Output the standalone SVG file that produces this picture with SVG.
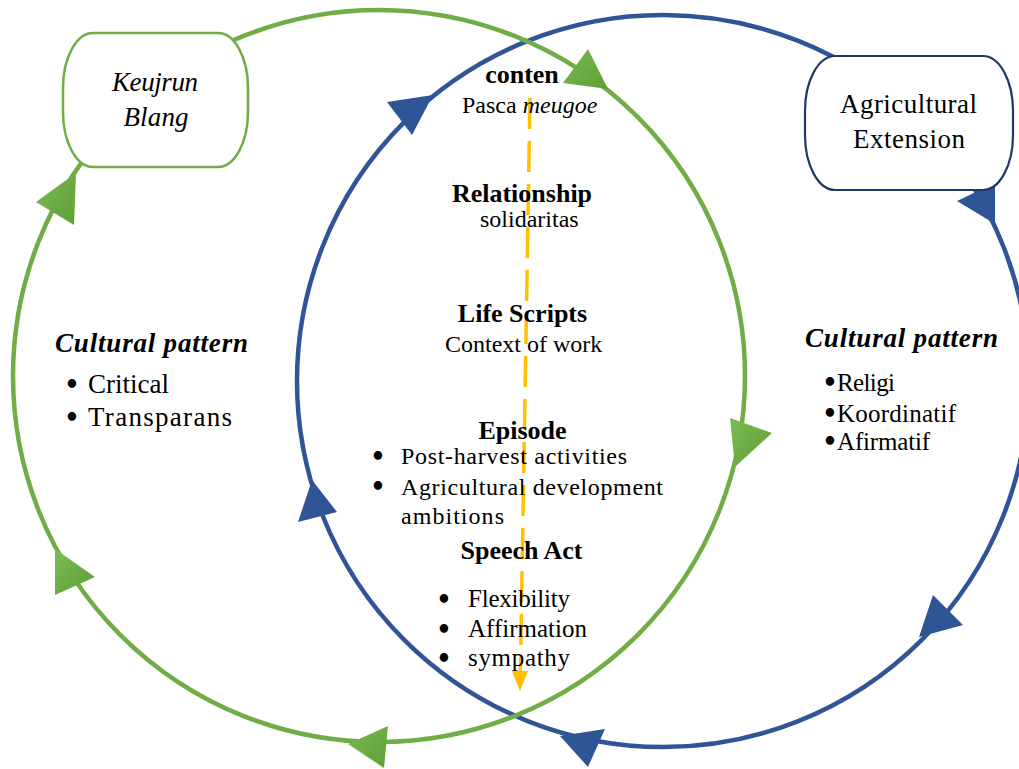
<svg xmlns="http://www.w3.org/2000/svg" width="1019" height="769" viewBox="0 0 1019 769">
<style>
.ring{fill:none;stroke-width:4.5}
.g{stroke:#70AD47}
.b{stroke:#2F5597}
.ga{fill:url(#gg)}
.ba{fill:#2F5597}
.box{fill:#fff}
.t{font-family:"Liberation Serif","Times New Roman",serif;fill:#000}
.h{font-weight:bold;font-size:26px;text-anchor:middle}
.s{font-size:24px}
.c{font-size:27px}
.cp{font-size:27px;font-weight:bold;font-style:italic}
.bul{text-anchor:middle;font-size:24px;font-weight:bold;font-family:"DejaVu Sans",sans-serif}
</style>
<defs>
<linearGradient id="gg" x1="0" y1="0" x2="1" y2="1">
<stop offset="0" stop-color="#7DBB55"/>
<stop offset="1" stop-color="#5E9E34"/>
</linearGradient>
</defs>
<g id="connectors">
<circle class="ring b" cx="663" cy="381" r="366"/>
<circle class="ring g" cx="379" cy="376" r="366"/>
<line x1="530" y1="98" x2="520.4" y2="671" stroke="#FFC000" stroke-width="3.5" stroke-dasharray="31 12"/>
<polygon points="512,671 528,671 520,691" fill="#FFC000"/>
<polygon class="ba" points="433,95 387,102 412,135"/>
<polygon class="ba" points="312,480 298,522 337,512"/>
<polygon class="ba" points="919,637 933,595 963,625"/>
<polygon class="ba" points="560,736 605,729 588,767"/>
<polygon class="ba" points="957,201 995,183 995,224"/>
<polygon class="ga" points="36,202 76,173 74,225"/>
<polygon class="ga" points="608,89 563,83 588,49"/>
<polygon class="ga" points="730,418 772,433 735,467"/>
<polygon class="ga" points="55,549 95,577 55,595"/>
<polygon class="ga" points="348,744 388,726 384,768"/>
</g>
<g id="keujrun-blang">
<rect class="box" x="63" y="33" width="185" height="134" rx="30" ry="55" stroke="#70AD47" stroke-width="2.5"/>
<text class="t" x="155" y="91" font-size="27" font-style="italic" text-anchor="middle" textLength="86">Keujrun</text>
<text class="t" x="156" y="126" font-size="27" font-style="italic" text-anchor="middle" textLength="65">Blang</text>
</g>
<g id="agricultural-extension">
<rect class="box" x="805" y="56" width="208" height="134" rx="30" ry="55" stroke="#1F3864" stroke-width="2.2"/>
<text class="t" x="908.5" y="113" font-size="27" text-anchor="middle" textLength="137">Agricultural</text>
<text class="t" x="909" y="148" font-size="27" text-anchor="middle" textLength="112">Extension</text>
</g>
<g id="left-pattern">
<text class="t cp" x="55" y="352" textLength="193">Cultural pattern</text>
<text class="t c"><tspan class="bul" x="72" y="393">•</tspan><tspan x="88" y="393" textLength="81">Critical</tspan></text>
<text class="t c"><tspan class="bul" x="72" y="426">•</tspan><tspan x="88" y="426" textLength="144">Transparans</tspan></text>
</g>
<g id="right-pattern">
<text class="t cp" x="805" y="347" textLength="193">Cultural pattern</text>
<text class="t" font-size="25"><tspan class="bul" x="830" y="391">•</tspan><tspan x="837" y="391" textLength="58">Religi</tspan></text>
<text class="t" font-size="25"><tspan class="bul" x="830" y="422">•</tspan><tspan x="837" y="422" textLength="119">Koordinatif</tspan></text>
<text class="t" font-size="25"><tspan class="bul" x="830" y="450">•</tspan><tspan x="837" y="450" textLength="93">Afirmatif</tspan></text>
</g>
<g id="conten">
<text class="t h" x="522" y="83">conten</text>
<text class="t s" x="462" y="113">Pasca <tspan font-style="italic">meugoe</tspan></text>
</g>
<g id="relationship">
<text class="t h" x="522" y="202">Relationship</text>
<text class="t s" x="480" y="227">solidaritas</text>
</g>
<g id="life-scripts">
<text class="t h" x="522.5" y="322">Life Scripts</text>
<text class="t s" x="445" y="352">Context of work</text>
</g>
<g id="episode">
<text class="t h" x="522.5" y="439">Episode</text>
<text class="t" font-size="24"><tspan class="bul" x="378" y="465">•</tspan><tspan x="401" y="464" textLength="226">Post-harvest activities</tspan></text>
<text class="t" font-size="24"><tspan class="bul" x="378" y="495">•</tspan><tspan x="401" y="495" textLength="262">Agricultural development</tspan><tspan x="401" y="524" textLength="103">ambitions</tspan></text>
</g>
<g id="speech-act">
<text class="t h" x="521.5" y="559">Speech Act</text>
<text class="t" font-size="25"><tspan class="bul" x="444" y="608">•</tspan><tspan x="468" y="607" textLength="102">Flexibility</tspan></text>
<text class="t" font-size="25"><tspan class="bul" x="444" y="638">•</tspan><tspan x="468" y="637" textLength="119">Affirmation</tspan></text>
<text class="t" font-size="25"><tspan class="bul" x="444" y="667">•</tspan><tspan x="468" y="666" textLength="102">sympathy</tspan></text>
</g>
</svg>
